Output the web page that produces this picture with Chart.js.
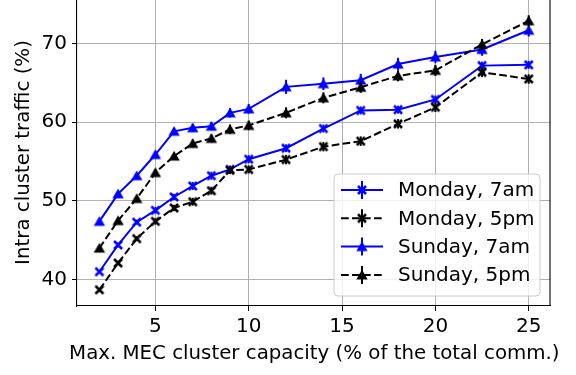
<!DOCTYPE html>
<html>
<head>
<meta charset="utf-8">
<script src="https://cdn.jsdelivr.net/npm/chart.js@4.4.1/dist/chart.umd.min.js"></script>
<style>
  html, body { margin: 0; padding: 0; background: #fff; overflow: hidden; }
  #wrap { position: absolute; left: 0; top: -8px; width: 576px; height: 383px; }
</style>
</head>
<body>
<div id="wrap"><canvas id="chart"></canvas></div>
<script>
'use strict';

// Data
const xValues = [2, 3, 4, 5, 6, 7, 8, 9, 10, 12, 14, 16, 18, 20, 22.5, 25];
const xTicks = [5, 10, 15, 20, 25];
const yTicks = [40, 50, 60, 70];

const monday7am = [41.0, 44.4, 47.3, 48.8, 50.5, 51.9, 53.2, 54.0, 55.3, 56.7, 59.2, 61.5, 61.6, 62.9, 67.2, 67.3];
const monday5pm = [38.7, 42.1, 45.2, 47.4, 49.1, 49.9, 51.3, 53.9, 54.0, 55.25, 56.9, 57.6, 59.8, 61.9, 66.35, 65.5];
const sunday7am = [47.4, 50.9, 53.2, 55.9, 58.85, 59.3, 59.5, 61.2, 61.7, 64.5, 64.9, 65.35, 67.4, 68.3, 69.25, 71.7];
const sunday5pm = [44.0, 47.5, 50.3, 53.6, 55.7, 57.3, 57.95, 59.1, 59.6, 61.2, 63.1, 64.45, 65.9, 66.6, 69.9, 72.9];

// Error bar half-lengths (same units)
const monday7amErr = [0.2, 0.3, 0.3, 0.4, 0.4, 0.5, 0.5, 0.5, 0.5, 0.5, 0.5, 0.5, 0.5, 0.5, 0.5, 0.5];
const monday5pmErr = [0.2, 0.3, 0.3, 0.4, 0.4, 0.5, 0.5, 0.5, 0.5, 0.6, 0.6, 0.6, 0.6, 0.6, 0.6, 0.6];
const sunday7amErr = [0.3, 0.3, 0.3, 0.4, 0.4, 0.5, 0.5, 0.6, 0.6, 0.9, 0.8, 0.8, 0.8, 0.8, 0.8, 0.8];
const sunday5pmErr = [0.3, 0.3, 0.3, 0.4, 0.4, 0.5, 0.5, 0.6, 0.6, 0.7, 0.7, 0.7, 0.7, 0.7, 0.7, 0.7];

const seriesLabels = ['Monday, 7am', 'Monday, 5pm', 'Sunday, 7am', 'Sunday, 5pm'];
const xTitle = 'Max. MEC cluster capacity (% of the total comm.)';
const yTitle = 'Intra cluster traffic (%)';

const FONT = 'DejaVu Sans';
const FONT_SIZE = 20;
const TITLE_SIZE = 19.8;
const BLUE = '#0000ff';
const BLACK = '#000000';
const DASH = [7.7, 3.3];

// Small canvas markers (matplotlib-like 'x' and '^')
function makeMarker(shape, color) {
    const c = document.createElement('canvas');
    c.width = 16;
    c.height = 16;
    const g = c.getContext('2d');
    g.translate(8, 8);
    if (shape === 'x') {
        g.strokeStyle = color;
        g.lineWidth = 2.5;
        g.beginPath();
        g.moveTo(-4, -4); g.lineTo(4, 4);
        g.moveTo(-4, 4); g.lineTo(4, -4);
        g.stroke();
    } else {
        g.fillStyle = color;
        g.beginPath();
        g.moveTo(0, -5.2);
        g.lineTo(-5.7, 4.6);
        g.lineTo(5.7, 4.6);
        g.closePath();
        g.fill();
    }
    return c;
}

function makeSeries(label, values, errors, color, marker, dashed, order) {
    return {
        label: label,
        data: xValues.map((x, i) => ({ x: x, y: values[i] })),
        errors: errors,
        borderColor: color,
        backgroundColor: color,
        borderWidth: 2,
        borderDash: dashed ? DASH : [],
        pointStyle: makeMarker(marker, color),
        pointRadius: 5,
        pointHoverRadius: 5,
        tension: 0,
        fill: false,
        order: order
    };
}

// Error bars drawn through the scales
const errorBars = {
    id: 'errorBars',
    afterDatasetsDraw(chart) {
        const ctx = chart.ctx;
        const yScale = chart.scales.y;
        ctx.save();
        chart.data.datasets.forEach((ds, i) => {
            const meta = chart.getDatasetMeta(i);
            ctx.strokeStyle = ds.borderColor;
            ctx.lineWidth = 2;
            ctx.setLineDash([]);
            meta.data.forEach((pt, j) => {
                const v = ds.data[j].y;
                const e = ds.errors[j];
                ctx.beginPath();
                ctx.moveTo(pt.x, yScale.getPixelForValue(v + e));
                ctx.lineTo(pt.x, yScale.getPixelForValue(v - e));
                ctx.stroke();
            });
        });
        ctx.restore();
    }
};

// Right spine, x title and legend box inside the axes
const frameAndLegend = {
    id: 'frameAndLegend',
    afterDraw(chart) {
        const ctx = chart.ctx;
        const area = chart.chartArea;
        ctx.save();

        // right and top spines
        ctx.strokeStyle = '#000';
        ctx.lineWidth = 1.1;
        ctx.beginPath();
        ctx.moveTo(area.right, area.bottom);
        ctx.lineTo(area.right, area.top);
        ctx.lineTo(area.left, area.top);
        ctx.stroke();

        // x axis title (drawn here so it is not squeezed to the axis width)
        ctx.font = TITLE_SIZE + 'px "' + FONT + '"';
        ctx.fillStyle = '#000';
        ctx.textAlign = 'center';
        ctx.textBaseline = 'alphabetic';
        ctx.fillText(xTitle, (area.left + area.right) / 2 + 0.8, area.bottom + 52.8);

        // legend frame
        const w = 206, h = 122;
        const bx = area.right - 10 - w;
        const by = area.bottom - 10 - h;
        ctx.beginPath();
        ctx.roundRect(bx, by, w, h, 4);
        ctx.fillStyle = 'rgba(255,255,255,0.8)';
        ctx.fill();
        ctx.strokeStyle = '#cccccc';
        ctx.lineWidth = 1;
        ctx.stroke();

        ctx.font = FONT_SIZE + 'px "' + FONT + '"';
        ctx.textBaseline = 'middle';
        ctx.textAlign = 'left';
        chart.data.datasets.forEach((ds, i) => {
            const cy = by + 16 + i * 28.3;
            const x0 = bx + 7, x1 = bx + 49, xm = bx + 28;
            ctx.strokeStyle = ds.borderColor;
            ctx.lineWidth = 2;
            ctx.setLineDash(ds.borderDash);
            ctx.beginPath();
            ctx.moveTo(x0, cy);
            ctx.lineTo(x1, cy);
            ctx.stroke();
            ctx.setLineDash([]);
            ctx.beginPath();
            ctx.moveTo(xm, cy - 9);
            ctx.lineTo(xm, cy + 9);
            ctx.stroke();
            const m = ds.pointStyle;
            ctx.drawImage(m, xm - m.width / 2, cy - m.height / 2);
            ctx.fillStyle = '#000';
            ctx.fillText(ds.label, bx + 64, cy + 1);
        });
        ctx.restore();
    }
};

Chart.defaults.font.family = FONT;
Chart.defaults.font.size = FONT_SIZE;
Chart.defaults.color = '#000';

const chart = new Chart(document.getElementById('chart').getContext('2d'), {
    type: 'line',
    data: {
        datasets: [
            makeSeries(seriesLabels[0], monday7am, monday7amErr, BLUE, 'x', false, 4),
            makeSeries(seriesLabels[1], monday5pm, monday5pmErr, BLACK, 'x', true, 3),
            makeSeries(seriesLabels[2], sunday7am, sunday7amErr, BLUE, 'triangle', false, 2),
            makeSeries(seriesLabels[3], sunday5pm, sunday5pmErr, BLACK, 'triangle', true, 1)
        ]
    },
    options: {
        responsive: true,
        maintainAspectRatio: false,
        animation: false,
        events: [],
        layout: { padding: { left: 0, right: 26, top: 0, bottom: 0 } },
        plugins: {
            legend: { display: false },
            tooltip: { enabled: false }
        },
        scales: {
            x: {
                type: 'linear',
                position: 'bottom',
                min: 0.8,
                max: 26.14,
                afterBuildTicks: (scale) => { scale.ticks = xTicks.map(v => ({ value: v })); },
                afterFit: (scale) => {
                    scale.height = 69;
                    scale.paddingLeft = 0;
                    scale.paddingRight = 0;
                },
                ticks: {
                    padding: 4,
                    maxRotation: 0,
                    autoSkip: false,
                    callback: (v) => String(v)
                },
                grid: {
                    color: '#b0b0b0',
                    lineWidth: 1,
                    tickColor: '#000',
                    tickLength: 5
                },
                border: { color: '#000', width: 1.1 },
                title: { display: false }
            },
            y: {
                type: 'linear',
                position: 'left',
                min: 36.64,
                max: 75.67,
                afterBuildTicks: (scale) => { scale.ticks = yTicks.map(v => ({ value: v })); },
                afterFit: (scale) => {
                    scale.width = 77;
                    scale.paddingTop = 0;
                    scale.paddingBottom = 0;
                },
                ticks: {
                    padding: 5,
                    callback: (v) => String(v)
                },
                grid: {
                    color: '#b0b0b0',
                    lineWidth: 1,
                    tickColor: '#000',
                    tickLength: 5
                },
                border: { color: '#000', width: 1.1 },
                title: {
                    display: true,
                    text: yTitle,
                    font: { size: TITLE_SIZE },
                    padding: { top: 12, bottom: 0 }
                }
            }
        }
    },
    plugins: [errorBars, frameAndLegend]
});
</script>
</body>
</html>
